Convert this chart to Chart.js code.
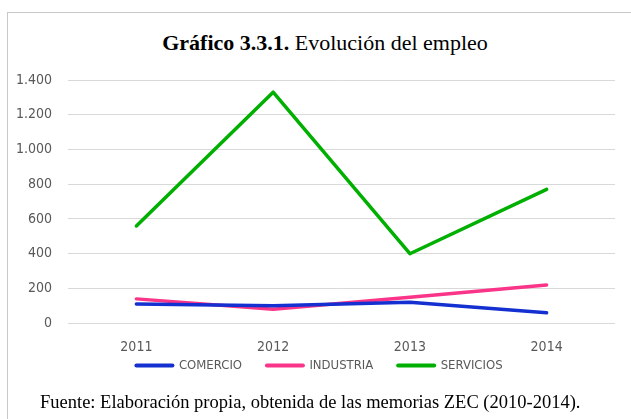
<!DOCTYPE html>
<html>
<head>
<meta charset="utf-8">
<script src="https://cdn.jsdelivr.net/npm/chart.js@4/dist/chart.umd.min.js"></script>
<style>
  html, body { margin: 0; padding: 0; background: #fff; }
  #wrap { position: relative; width: 631px; height: 419px; overflow: hidden; }
  #frame { position: absolute; left: 7px; top: 12px; width: 700px; height: 500px; border: 1px solid #c8c8c8; }
  #title { position: absolute; left: 0; top: 30px; width: 650px; text-align: center;
    font-family: "Liberation Serif", "Times New Roman", serif; font-size: 22px; color: #000; }
  #source { position: absolute; left: 40px; top: 392px;
    font-family: "Liberation Serif", "Times New Roman", serif; font-size: 18.5px; color: #000; }
  canvas { position: absolute; left: 0; top: 0; }
</style>
</head>
<body>
<div id="wrap">
  <div id="frame"></div>
  <div id="title"><b>Gráfico 3.3.1.</b> Evolución del empleo</div>
  <canvas id="chart" width="631" height="419"></canvas>
  <div id="source">Fuente: Elaboración propia, obtenida de las memorias ZEC (2010-2014).</div>
</div>
<script>
const years = ["2011", "2012", "2013", "2014"];
const comercio = [110, 100, 120, 60];
const industria = [140, 80, 150, 220];
const servicios = [560, 1330, 400, 770];

function fmt(n) {
  return new Intl.NumberFormat("de-DE").format(n);
}

const fontFam = "'DejaVu Sans Condensed', 'Liberation Sans Narrow', sans-serif";
const tickFont = { family: fontFam, size: 14 };

// the legend sits closer to the axis labels than Chart.js allows by default
const legendNudge = {
  id: "legendNudge",
  afterLayout(chart) {
    const lg = chart.legend;
    lg.top -= 23; lg.bottom -= 23;
    lg.left += 8; lg.right += 8;
  },
};

new Chart(document.getElementById("chart").getContext("2d"), {
  type: "line",
  data: {
    labels: years,
    datasets: [
      { label: "COMERCIO", data: comercio, borderColor: "#1530d0", backgroundColor: "#1530d0" },
      { label: "INDUSTRIA", data: industria, borderColor: "#fa3489", backgroundColor: "#fa3489" },
      { label: "SERVICIOS", data: servicios, borderColor: "#00b000", backgroundColor: "#00b000" },
    ],
  },
  options: {
    responsive: false,
    animation: false,
    layout: { padding: { left: 8, right: 16, top: 80, bottom: 14 } },
    elements: {
      line: { borderWidth: 3.5, tension: 0, borderCapStyle: "round", borderJoinStyle: "round" },
      // points are hidden; borderWidth only feeds the legend line
      point: { radius: 0, pointStyle: "line", borderWidth: 4 },
    },
    plugins: {
      legend: {
        position: "bottom",
        labels: {
          usePointStyle: true, pointStyle: "line", pointStyleWidth: 36,
          padding: 10,
          color: "#595959",
          font: { family: fontFam, size: 13 },
          // wider gap between items, like the original
          generateLabels(chart) {
            const items = Chart.defaults.plugins.legend.labels.generateLabels(chart);
            items.forEach((it, i) => {
              it.lineCap = "round";
              if (i < items.length - 1) it.text += "    ";
            });
            return items;
          },
        },
      },
      tooltip: { enabled: false },
    },
    scales: {
      x: {
        offset: true,
        grid: { display: false, drawTicks: false },
        border: { display: false },
        ticks: { color: "#595959", font: tickFont, padding: 16 },
      },
      y: {
        min: 0, max: 1400,
        afterFit(scale) { scale.width = 60; },
        grid: { color: "#d9d9d9", drawTicks: false },
        border: { display: false },
        ticks: { stepSize: 200, color: "#595959", font: tickFont, padding: 16, callback: (v) => fmt(v) },
      },
    },
  },
  plugins: [legendNudge],
});
</script>
</body>
</html>
